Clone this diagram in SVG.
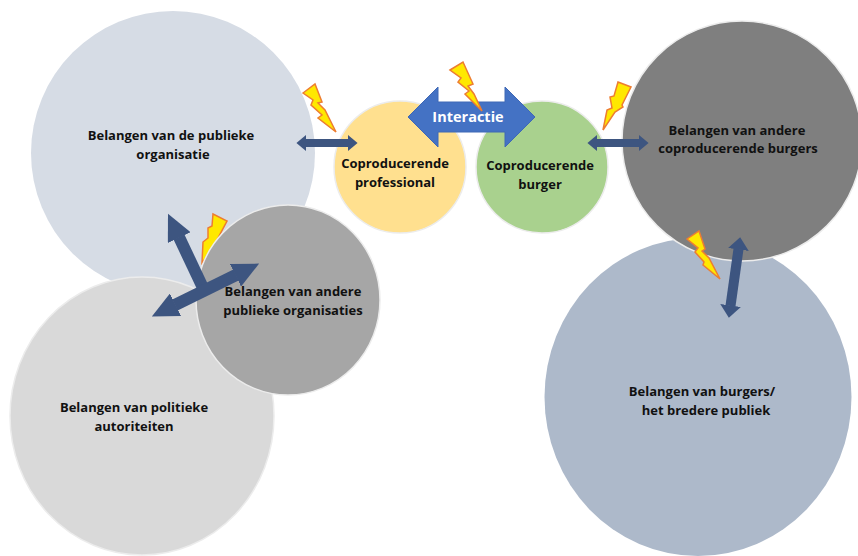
<svg xmlns="http://www.w3.org/2000/svg" width="858" height="556" viewBox="0 0 858 556">
<style>
text{font-family:"Open Sans","Noto Sans","Liberation Sans",sans-serif;font-weight:700;font-size:13px;fill:#111;text-anchor:middle}
.bolt{fill:#ffe800;stroke:#ed7d31;stroke-width:1.5;stroke-linejoin:miter}
.c{stroke:#ececec;stroke-width:1.5}
.a{stroke:#3d5580;fill:none}
.s{marker-start:url(#hs);marker-end:url(#hs)}
.b{marker-end:url(#hb)}
.bb{marker-start:url(#hb);marker-end:url(#hb)}
</style>
<defs>
<marker id="hs" viewBox="0 0 12 20" refX="0.5" refY="10" markerWidth="1.25" markerHeight="2.2" orient="auto-start-reverse" markerUnits="strokeWidth"><path d="M0,0L12,10L0,20z" fill="#3d5580"/></marker>
<marker id="hb" viewBox="0 0 22 21" refX="0.5" refY="10.5" markerWidth="2.2" markerHeight="2.1" orient="auto-start-reverse" markerUnits="strokeWidth"><path d="M0,0L22,10.5L0,21z" fill="#3d5580"/></marker>
</defs>
<rect width="858" height="556" fill="#fff"/>
<g id="publieke-organisatie"><circle cx="173" cy="153" r="142" fill="#d6dce5"/><text x="171" y="140">Belangen van de publieke</text><text x="173" y="159">organisatie</text></g>
<g id="politieke-autoriteiten"><ellipse class="c" cx="142" cy="416" rx="132" ry="139" fill="#d9d9d9"/><text x="134" y="412">Belangen van politieke</text><text x="134" y="431">autoriteiten</text></g>
<polygon class="bolt" points="213,214 227,221 217,240 219,241 202,263 203,242 208,238 208,228 212,226"/>
<g id="andere-publieke-organisaties"><ellipse class="c" cx="288" cy="300" rx="92" ry="95" fill="#a6a6a6"/><text x="293" y="296">Belangen van andere</text><text x="293" y="315">publieke organisaties</text></g>
<g id="burgers-publiek"><ellipse cx="698" cy="397" rx="153.500" ry="159" fill="#adb9ca"/><text x="702" y="396">Belangen van burgers/</text><text x="706" y="415">het bredere publiek</text></g>
<g id="andere-burgers"><circle class="c" cx="742" cy="141" r="120" fill="#7f7f7f"/><text x="737" y="135">Belangen van andere</text><text x="738" y="153">coproducerende  burgers</text></g>
<g id="professional"><circle class="c" cx="400" cy="167" r="66" fill="#ffe08f"/><text x="395" y="168">Coproducerende</text><text x="395" y="187">professional</text></g>
<g id="burger"><circle class="c" cx="542" cy="167" r="66" fill="#a9d18e"/><text x="540" y="170">Coproducerende</text><text x="540" y="189">burger</text></g>
<g id="connectors">
<line class="a s" stroke-width="8" x1="306" y1="143" x2="348" y2="143"/>
<line class="a s" stroke-width="8" x1="597" y1="143" x2="639" y2="143"/>
<line class="a s" stroke-width="10" x1="738.500" y1="249" x2="730.500" y2="306"/>
<line class="a b" stroke-width="12" x1="204" y1="290" x2="179" y2="237"/>
<line class="a bb" stroke-width="12" x1="175" y1="305" x2="236" y2="275"/>
</g>
<g id="interactie"><polygon points="408,117 438,87 438,102 505,102 505,87 535,117 505,147 505,132 438,132 438,147" fill="#4472c4" stroke="#3f68b5" stroke-width="1"/><text x="468" y="122" style="fill:#fff;font-size:14.5px">Interactie</text></g>
<polygon class="bolt" points="303,93 315,84 322,102 318,103 325,110 336,132 318,118 322,115 311,105 313,100"/>
<polygon class="bolt" points="450,70 463,62 473,84 468,86 474,94 482,111 465,94 469,91 458,82 461,78"/>
<polygon class="bolt" points="618,82 631,87 622,105 623,107 615,112 603,130 607,110 612,108 610,97 614,96"/>
<polygon class="bolt" points="687,239 699,231 705,249 702,251 709,258 720,279 703,265 704,262 695,252 698,248"/>
</svg>
